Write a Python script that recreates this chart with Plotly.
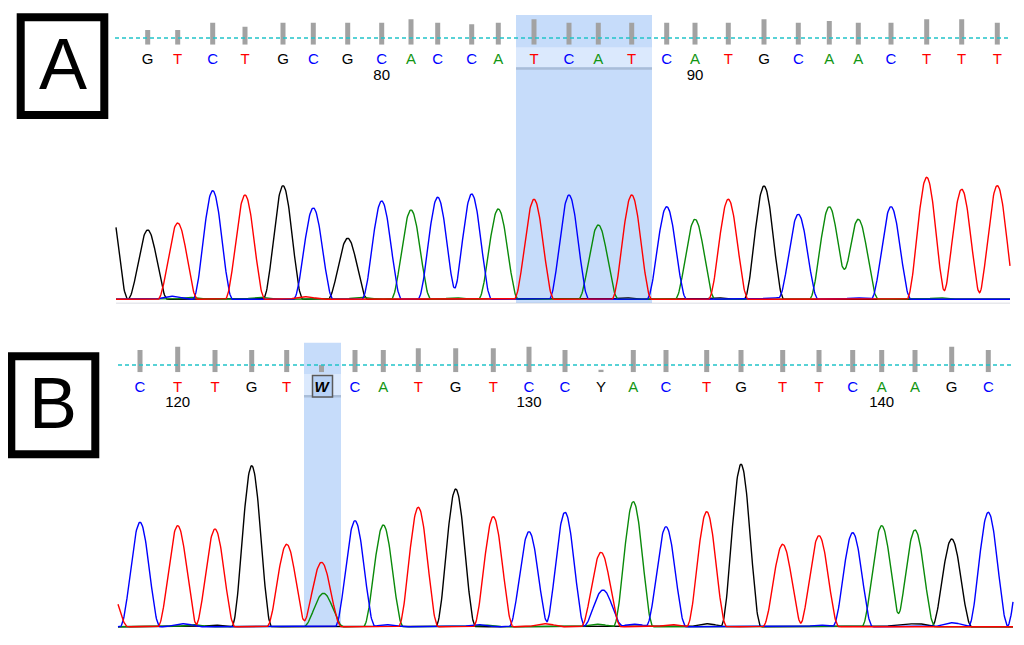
import numpy as np
import plotly.graph_objects as go

PAGE_W, PAGE_H = 1024, 645
OFF = 8                      # page body margin
W, H = PAGE_W - OFF, PAGE_H - OFF

# ---------------- data: panel A ----------------
a_bases = list("GTCTGCGCACCATCATCATGCAACTTT")
a_pos = [147.7, 177.7, 212.7, 245, 283, 313.3, 347.7, 381.7, 411, 437.7, 471.7, 498.3, 534, 569,
         598.3, 631.7, 666.7, 695, 728.3, 764, 798.3, 829.3, 858.3, 891, 926.7, 961.7, 997.3]
a_height = [69.3, 76.3, 108.6, 104.3, 113.6, 91.3, 61, 98.3, 89.3, 102, 105.3, 90.3, 100, 104.3,
            74.3, 104.3, 92.6, 80, 100, 113.3, 85, 92.6, 80, 92.6, 122, 110, 113.6]
a_quality = [14.7, 14.7, 22, 18, 22, 22, 22, 22, 25.4, 22, 20.4, 22, 25.4, 22, 22, 22, 22, 22, 22,
             25.4, 22, 23.7, 22, 22, 25.4, 25.4, 22]
a_first_number = 73
a_tick_numbers = [80, 90]
# extra peaks (edge peaks and small background signal): channel, position, height
a_extra_ch = ["G", "C", "A", "A", "T", "A", "A", "G", "G", "C", "C", "A"]
a_extra_x = [108, 172, 190, 260, 305, 361, 456, 626, 718, 773, 857, 940]
a_extra_h = [110, 3, 2, 2, 2.5, 2, 1.5, 1.5, 1.5, 1.5, 1.5, 1.5]
a_select = (516, 652)   # selected bases region

# ---------------- data: panel B ----------------
b_bases = list("CTTGTWCATGTCCYACTGTTCAAGC")
b_pos = [140, 177.7, 215, 251.7, 286.7, 321.5, 355, 383.3, 418.3, 455.7, 493.3, 529, 565,
         601, 633.3, 666, 706.7, 741, 782.7, 819, 852.7, 881.7, 915, 951.7, 988.3]
b_height = [104.4, 101, 97.7, 161, 82.4, 64.4, 106, 101.7, 119.4, 137.7, 110, 95, 114.4,
            74.4, 125, 100, 115, 162.4, 82.4, 91, 94, 101, 96.7, 87.7, 114.4]
b_quality = [22.3, 25.6, 22.3, 22.3, 22.3, 7.3, 22.3, 22.3, 24, 24, 24, 25.6, 22.3,
             2.5, 22.3, 22.3, 22.3, 22.3, 22.3, 22.3, 22.3, 22.3, 22.3, 25.6, 22.3]
b_first_number = 119
b_tick_numbers = [120, 130, 140]
# ambiguous calls: primary channel and secondary channel/height
b_mixed_primary = {"W": "T", "Y": "T"}
b_mixed_second_ch = {"W": "A", "Y": "C"}
b_mixed_second_h = {"W": 33.4, "Y": 36.7}
b_extra_ch = ["T", "C", "C", "A", "G", "C", "C", "A", "T", "A", "C", "T", "G", "C", "G", "C", "G"]
b_extra_x = [108, 1027, 183, 193, 215, 387, 478, 485, 545, 597, 634, 672, 707, 820, 917, 952, 898]
b_extra_h = [45, 120, 3, 2, 1.5, 2, 2, 1.5, 3, 2.5, 2.5, 2, 3, 1.5, 3, 4, 1.5]
b_select = (304, 341)

# ---------------- styling ----------------
trace_colors = {"G": "#000000", "A": "#0a8a0a", "C": "#0000ff", "T": "#ff0000"}
letter_colors = {"G": "#000000", "A": "#129612", "C": "#0000ff", "T": "#ff0000",
                 "W": "#000000", "Y": "#000000"}
PEAK_W = 20.0
SEL = "#c6dcfa"
SEL_BAND = "#dbe9fd"
SEL_LINE = "#a9bdd8"


def paper_y(pix):
    return 1 - (pix - OFF) / H


def peak_curves(x, peaks):
    out = {ch: np.zeros_like(x) for ch in "GATC"}
    for ch, x0, h in peaks:
        d = np.abs(x - x0)
        m = d < PEAK_W
        out[ch][m] += h * np.cos(np.pi * d[m] / (2 * PEAK_W)) ** 2
    return out


fig = go.Figure()
layout_axes = {}


def add_panel(bases, pos, heights, quality, first_num, tick_nums, extra, mixed,
              xr, base_pix, top_pix, bot_pix, qbot_pix, qtop_pix, letter_pix, num_pix,
              trace_ax, qual_ax):
    layout_axes["yaxis%d" % trace_ax] = dict(
        domain=[paper_y(bot_pix), paper_y(top_pix)],
        range=[base_pix - bot_pix, base_pix - top_pix], visible=False, anchor="x", fixedrange=True)
    layout_axes["yaxis%d" % qual_ax] = dict(
        domain=[paper_y(qbot_pix), paper_y(qtop_pix)],
        range=[0, qbot_pix - qtop_pix], visible=False, anchor="x", fixedrange=True)

    peaks = []
    for b, p, h in zip(bases, pos, heights):
        if b in mixed[0]:
            peaks.append((mixed[0][b], p, h))
            peaks.append((mixed[1][b], p + 2, mixed[2][b]))
        else:
            peaks.append((b, p, h))
    for ch, p, h in zip(*extra):
        peaks.append((ch, p, h))
    x = np.arange(xr[0], xr[1] + 0.01, 0.5)
    curves = peak_curves(x, peaks)
    for ch in ["G", "A", "C", "T"]:
        fig.add_trace(go.Scatter(x=x, y=curves[ch], mode="lines",
                                 line=dict(color=trace_colors[ch], width=1.4),
                                 xaxis="x", yaxis="y%d" % trace_ax, hoverinfo="skip",
                                 showlegend=False))
    fig.add_trace(go.Bar(x=pos, y=quality, width=5, marker=dict(color="#a2a2a2", line=dict(width=0)),
                         xaxis="x", yaxis="y%d" % qual_ax, showlegend=False, hoverinfo="skip"))
    texts = ["<b><i>W</i></b>" if b == "W" else b for b in bases]
    fig.add_trace(go.Scatter(x=pos, y=[letter_pix] * len(bases), mode="text", text=texts,
                             textfont=dict(family="Liberation Sans", size=15,
                                           color=[letter_colors[b] for b in bases]),
                             xaxis="x", yaxis="y", showlegend=False, hoverinfo="skip"))
    tx = [pos[n - first_num] for n in tick_nums]
    fig.add_trace(go.Scatter(x=tx, y=[num_pix] * len(tx), mode="text",
                             text=[str(n) for n in tick_nums],
                             textfont=dict(family="Liberation Sans", size=15, color="#000000"),
                             xaxis="x", yaxis="y", showlegend=False, hoverinfo="skip"))


add_panel(a_bases, a_pos, a_height, a_quality, a_first_number, a_tick_numbers,
          (a_extra_ch, a_extra_x, a_extra_h), ({}, {}, {}),
          (116, 1010), 299.3, 165, 310, 44.7, 10, 60.7, 76.7, 2, 3)
add_panel(b_bases, b_pos, b_height, b_quality, b_first_number, b_tick_numbers,
          (b_extra_ch, b_extra_x, b_extra_h), (b_mixed_primary, b_mixed_second_ch, b_mixed_second_h),
          (118, 1013), 626.7, 450, 636, 372.3, 338, 388.3, 403.5, 4, 5)

shapes = []


def rect(x0, x1, y0, y1, fill, layer="below", line=None):
    shapes.append(dict(type="rect", xref="x", yref="paper", x0=x0, x1=x1, y0=paper_y(y1), y1=paper_y(y0),
                       fillcolor=fill, layer=layer, line=line or dict(width=0)))


rect(a_select[0], a_select[1], 15, 303, SEL)
rect(a_select[0], a_select[1], 47.3, 67.3, SEL_BAND)
rect(a_select[0], a_select[1], 67.3, 69.8, SEL_LINE)
rect(b_select[0], b_select[1], 342.7, 626.7, SEL)
rect(b_select[0], b_select[1], 374, 395, SEL_BAND)
rect(b_select[0], b_select[1], 395, 397.5, SEL_LINE)
rect(116, 1010, 302.5, 304, "rgba(120,130,150,0.18)")
wi = b_bases.index("W")
rect(b_pos[wi] - 9, b_pos[wi] + 11, 375.5, 397, "#b8d2f6", line=dict(color="#5a5a5a", width=1.5))

for y, x0, x1 in [(38, 115, 1010), (365, 118, 1013)]:
    shapes.append(dict(type="line", xref="x", yref="paper", x0=x0, x1=x1, y0=paper_y(y), y1=paper_y(y),
                       line=dict(color="#22c3c9", width=1.5, dash="4px,3px"), layer="above"))

for x0, x1, y0, y1 in [(20.7, 104.3, 17.3, 115), (11.3, 95.3, 356.3, 454.3)]:
    shapes.append(dict(type="rect", xref="x", yref="paper", x0=x0, x1=x1, y0=paper_y(y1), y1=paper_y(y0),
                       line=dict(color="#000000", width=8), fillcolor="rgba(0,0,0,0)", layer="above"))

annotations = [
    dict(text="A", x=62.5, y=paper_y(64), xref="x", yref="paper", showarrow=False,
         font=dict(family="Liberation Sans", size=72, color="#000000"), xanchor="center", yanchor="middle"),
    dict(text="B", x=53.3, y=paper_y(403), xref="x", yref="paper", showarrow=False,
         font=dict(family="Liberation Sans", size=72, color="#000000"), xanchor="center", yanchor="middle"),
]

fig.update_layout(
    width=W, height=H, margin=dict(l=0, r=0, t=0, b=0),
    paper_bgcolor="#ffffff", plot_bgcolor="rgba(0,0,0,0)",
    xaxis=dict(domain=[0, 1], range=[OFF, PAGE_W], visible=False, anchor="y", fixedrange=True),
    yaxis=dict(domain=[0, 1], range=[PAGE_H, OFF], visible=False, anchor="x", fixedrange=True),
    shapes=shapes, annotations=annotations, showlegend=False, barmode="overlay",
)
fig.update_layout(**layout_axes)

fig.write_html("out.html")
